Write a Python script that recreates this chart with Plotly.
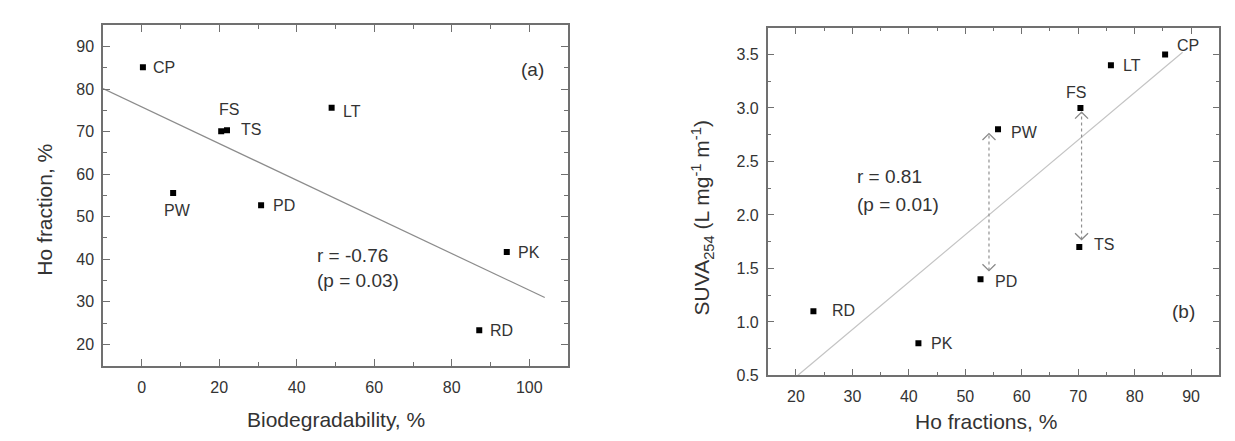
import plotly.graph_objects as go

# ---------------- data ----------------
samples = ["CP", "FS", "TS", "LT", "PW", "PD", "PK", "RD"]
biodeg = [0.3, 20.5, 22.0, 49.0, 8.1, 30.8, 94.2, 87.1]          # %
ho_frac_a = [85.1, 70.1, 70.3, 75.6, 55.6, 52.7, 41.7, 23.3]       # % (panel a)
ho_frac_b = [85.4, 70.4, 70.2, 75.8, 55.8, 52.7, 41.7, 23.1]       # % (panel b)
suva = [3.5, 3.0, 1.7, 3.4, 2.8, 1.4, 0.8, 1.1]                    # L mg-1 m-1

fit_a_x = [-10, 104]
fit_a_y = [80.1, 31.0]
fit_b_x = [20.3, 88.5]
fit_b_y = [0.5, 3.52]

arrow_x = [54.2, 70.6]
arrow_top = [2.76, 2.96]
arrow_bot = [1.48, 1.77]

r_text_a = ["r = -0.76", "(p = 0.03)"]
r_text_b = ["r = 0.81", "(p = 0.01)"]

# ---------------- styles ----------------
FONT = "Liberation Sans, Arial, sans-serif"
TXT = "#333333"
AXC = "#707070"
# label offsets (pixels): xshift, yshift, xanchor
off_a = {"CP": (8, 0, "left"), "FS": (8, 22, "center"), "TS": (12, 1, "left"),
         "LT": (9, -4, "left"), "PW": (4, -18, "center"), "PD": (10, 0, "left"),
         "PK": (9, 0, "left"), "RD": (9, 0, "left")}
off_b = {"CP": (10, 9, "left"), "FS": (-4, 15, "center"), "TS": (13, 3, "left"),
         "LT": (10, 0, "left"), "PW": (11, -3, "left"), "PD": (12, -2, "left"),
         "PK": (11, 0, "left"), "RD": (17, 1, "left")}

W, H = 1235, 441
X2_DOM = [767.7 / W, 1219.3 / W]
Y2_DOM = [1 - 383.3 / H, 1 - 28.3 / H]
X2_RNG = [15, 95]
Y2_RNG = [0.5, 3.75]
# pixel -> data scale in panel b (for arrow-head size)
px_x2 = (X2_RNG[1] - X2_RNG[0]) / ((X2_DOM[1] - X2_DOM[0]) * W)
px_y2 = (Y2_RNG[1] - Y2_RNG[0]) / ((Y2_DOM[1] - Y2_DOM[0]) * H)
HEAD_HALF_W, HEAD_H = 6.5, 6.5  # pixels

fig = go.Figure()

# regression lines
fig.add_trace(go.Scatter(x=fit_a_x, y=fit_a_y, mode="lines",
                         line=dict(color="#8c8c8c", width=1.2), xaxis="x", yaxis="y",
                         showlegend=False, hoverinfo="skip"))
fig.add_trace(go.Scatter(x=fit_b_x, y=fit_b_y, mode="lines",
                         line=dict(color="#c4c4c4", width=1.2), xaxis="x2", yaxis="y2",
                         showlegend=False, hoverinfo="skip"))

# dotted arrow shafts + open chevron heads
for xa, yt, yb in zip(arrow_x, arrow_top, arrow_bot):
    fig.add_trace(go.Scatter(x=[xa, xa], y=[yb, yt], mode="lines",
                             line=dict(color="#909090", width=1.2, dash="dot"),
                             xaxis="x2", yaxis="y2", showlegend=False, hoverinfo="skip"))
    dxh = HEAD_HALF_W * px_x2
    dyh = HEAD_H * px_y2
    for tip, sgn in ((yt, -1), (yb, 1)):
        fig.add_trace(go.Scatter(x=[xa - dxh, xa, xa + dxh], y=[tip + sgn * dyh, tip, tip + sgn * dyh],
                                 mode="lines", line=dict(color="#8a8a8a", width=1.3),
                                 xaxis="x2", yaxis="y2", showlegend=False, hoverinfo="skip"))

# points
fig.add_trace(go.Scatter(x=biodeg, y=ho_frac_a, mode="markers",
                         marker=dict(symbol="square", size=6, color="black"),
                         xaxis="x", yaxis="y", showlegend=False))
fig.add_trace(go.Scatter(x=ho_frac_b, y=suva, mode="markers",
                         marker=dict(symbol="square", size=6, color="black"),
                         xaxis="x2", yaxis="y2", showlegend=False))

ann = []
for s, xv, yv in zip(samples, biodeg, ho_frac_a):
    dx, dy, xa = off_a[s]
    ann.append(dict(x=xv, y=yv, xref="x", yref="y", text=s, showarrow=False,
                    xshift=dx, yshift=dy, xanchor=xa, yanchor="middle",
                    font=dict(family=FONT, size=16, color=TXT)))
for s, xv, yv in zip(samples, ho_frac_b, suva):
    dx, dy, xa = off_b[s]
    ann.append(dict(x=xv, y=yv, xref="x2", yref="y2", text=s, showarrow=False,
                    xshift=dx, yshift=dy, xanchor=xa, yanchor="middle",
                    font=dict(family=FONT, size=16, color=TXT)))

# r / p texts
for (xx, yy, t, xr, yr) in ((44.8, 40.8, r_text_a[0], "x", "y"), (44.8, 34.9, r_text_a[1], "x", "y"),
                            (30.4, 2.36, r_text_b[0], "x2", "y2"), (30.4, 2.10, r_text_b[1], "x2", "y2")):
    ann.append(dict(x=xx, y=yy, xref=xr, yref=yr, text=t, showarrow=False,
                    xanchor="left", yanchor="middle", font=dict(family=FONT, size=19, color=TXT)))
ann.append(dict(x=100.8, y=84.7, xref="x", yref="y", text="(a)", showarrow=False,
                xanchor="center", yanchor="middle", font=dict(family=FONT, size=19, color=TXT)))
ann.append(dict(x=88.6, y=1.1, xref="x2", yref="y2", text="(b)", showarrow=False,
                xanchor="center", yanchor="middle", font=dict(family=FONT, size=19, color=TXT)))

# axis titles
ann.append(dict(x=335.5 / W, y=1 - 428 / H, xref="paper", yref="paper",
                text="Biodegradability, %", showarrow=False, xanchor="center", yanchor="middle",
                font=dict(family=FONT, size=21, color=TXT)))
ann.append(dict(x=45 / W, y=1 - 214 / H, xref="paper", yref="paper",
                text="Ho fraction, %", showarrow=False, textangle=-90,
                xanchor="center", yanchor="middle", font=dict(family=FONT, size=21, color=TXT)))
ann.append(dict(x=985.5 / W, y=1 - 430 / H, xref="paper", yref="paper",
                text="Ho fractions, %", showarrow=False, xanchor="center", yanchor="middle",
                font=dict(family=FONT, size=21, color=TXT)))
ann.append(dict(x=702 / W, y=1 - 223 / H, xref="paper", yref="paper",
                text="SUVA<sub>254</sub> (L mg<sup>-1</sup> m<sup>-1</sup>)", showarrow=False,
                textangle=-90, xanchor="center", yanchor="middle",
                font=dict(family=FONT, size=21, color=TXT)))


def axis(domain, rng, dtick, minor_dtick, anchor, tick0=0):
    return dict(domain=domain, range=rng, anchor=anchor, dtick=dtick, tick0=tick0,
                showline=True, linecolor=AXC, linewidth=1.5, mirror="ticks",
                ticks="inside", ticklen=7, tickwidth=1.2, tickcolor=AXC,
                minor=dict(ticks="inside", ticklen=4, tickwidth=1.2, tickcolor=AXC,
                           dtick=minor_dtick, tick0=tick0),
                showgrid=False, zeroline=False,
                tickfont=dict(family=FONT, size=16, color=TXT))


fig.update_layout(
    width=W, height=H,
    margin=dict(l=0, r=0, t=0, b=0),
    paper_bgcolor="white", plot_bgcolor="white",
    xaxis=axis([103 / W, 568 / W], [-10, 110], 20, 10, "y"),
    yaxis=axis([1 - 373.3 / H, 1 - 25.7 / H], [15, 95], 10, 5, "x"),
    xaxis2=axis(X2_DOM, X2_RNG, 10, 5, "y2"),
    yaxis2=axis(Y2_DOM, Y2_RNG, 0.5, 0.25, "x2", tick0=0.5),
    annotations=ann,
    showlegend=False,
)
fig.update_xaxes(ticklabelstandoff=6)
fig.update_yaxes(ticklabelstandoff=4)
fig.layout.yaxis2.tickformat = ".1f"

fig.write_html("out.html")
